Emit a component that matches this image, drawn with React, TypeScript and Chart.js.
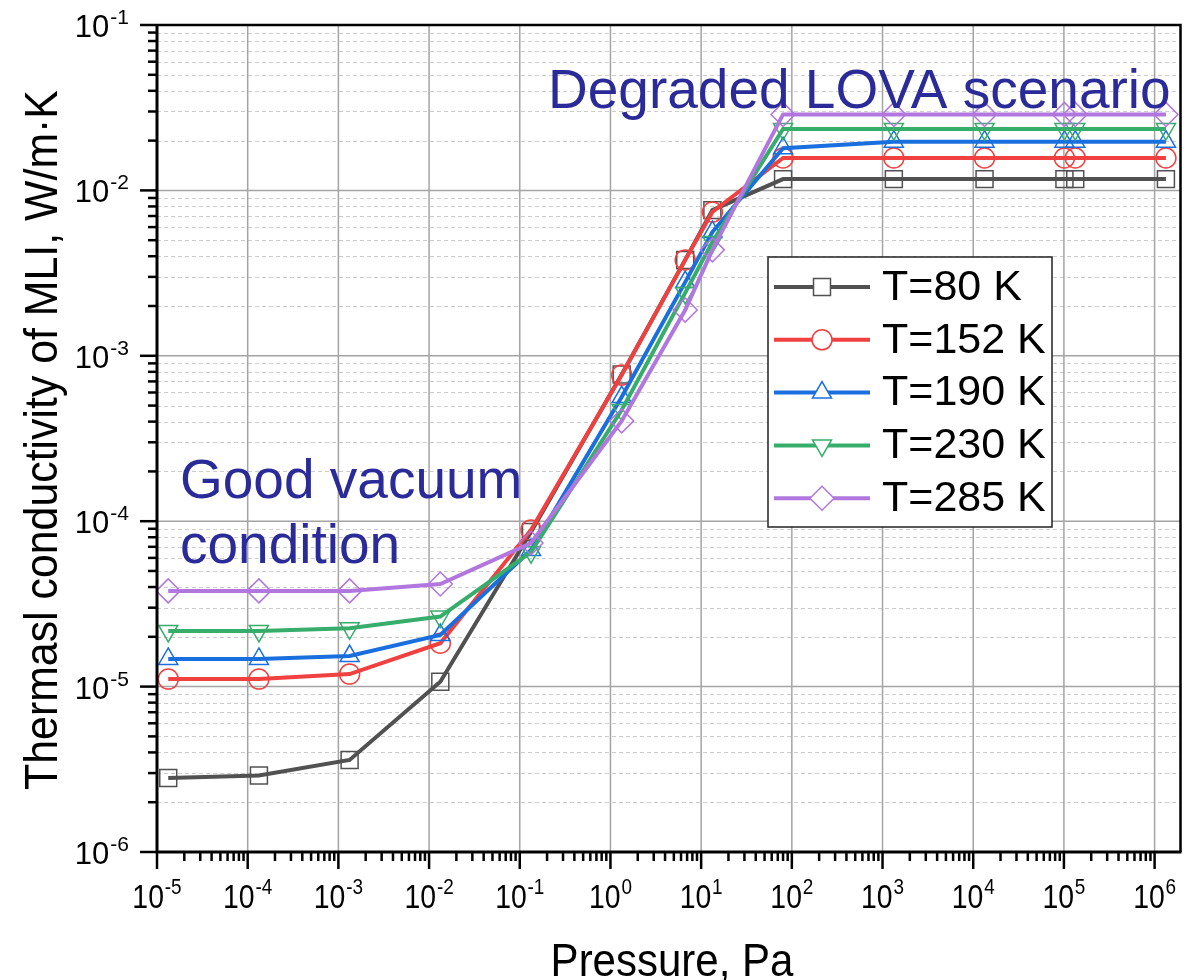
import React, { useEffect, useRef } from 'react';
import { Chart, registerables } from 'chart.js';
import { drawPoint } from 'chart.js/helpers';

Chart.register(...registerables);

// Pressure points, Pa
const pressurePa = [1.33e-5, 1.33e-4, 1.33e-3, 1.33e-2, 1.33e-1, 1.33, 6.67, 13.3, 80, 1333, 13332, 101325, 133322, 1333220];

// Thermal conductivity of MLI, W/m·K, one list per temperature
const k80 = [2.8e-6, 2.9e-6, 3.6e-6, 1.07e-5, 8.6e-5, 7.7e-4, 3.8e-3, 7.6e-3, 1.17e-2, 1.17e-2, 1.17e-2, 1.17e-2, 1.17e-2, 1.17e-2];
const k152 = [1.11e-5, 1.11e-5, 1.19e-5, 1.83e-5, 8.85e-5, 7.65e-4, 3.8e-3, 7.4e-3, 1.57e-2, 1.57e-2, 1.57e-2, 1.57e-2, 1.57e-2, 1.57e-2];
const k190 = [1.47e-5, 1.47e-5, 1.53e-5, 2.05e-5, 6.7e-5, 5.63e-4, 2.79e-3, 5.6e-3, 1.8e-2, 1.97e-2, 1.97e-2, 1.97e-2, 1.97e-2, 1.97e-2];
const k230 = [2.17e-5, 2.17e-5, 2.25e-5, 2.65e-5, 6.5e-5, 4.7e-4, 2.4e-3, 4.88e-3, 2.35e-2, 2.35e-2, 2.35e-2, 2.35e-2, 2.35e-2, 2.35e-2];
const k285 = [3.79e-5, 3.79e-5, 3.79e-5, 4.17e-5, 7.38e-5, 4.04e-4, 1.89e-3, 4.37e-3, 2.88e-2, 2.88e-2, 2.88e-2, 2.88e-2, 2.88e-2, 2.88e-2];

const seriesLabels = ['T=80 K', 'T=152 K', 'T=190 K', 'T=230 K', 'T=285 K'];
const seriesValues = [k80, k152, k190, k230, k285];
const seriesColors = ['#515151', '#F14040', '#1A6FDF', '#37AD6B', '#B177DE'];
const seriesMarkers = ['rect', 'circle', 'triangle', 'triangle', 'rectRot'];
const seriesMarkerRotation = [0, 0, 0, 180, 0];
const seriesMarkerRadius = [12, 10, 11, 11, 12];

// Axis decades (exponents of ten)
const xTickExponents = [-5, -4, -3, -2, -1, 0, 1, 2, 3, 4, 5, 6];
const yTickExponents = [-6, -5, -4, -3, -2, -1];

const xTitle = 'Pressure, Pa';
const yTitle = 'Thermasl conductivity of MLI, W/m·K';
const noteHigh = 'Degraded LOVA scenario';
const noteLowLines = ['Good vacuum', 'condition'];

const FONT = '"Liberation Sans", Arial, sans-serif';
const NOTE_COLOR = '#2A2A98';

// "10" with a raised exponent; sx squeezes the glyphs horizontally
function drawPower(
  ctx: CanvasRenderingContext2D,
  exp: number,
  x: number,
  baseline: number,
  align: 'center' | 'right',
  baseSize: number,
  supSize: number,
  sx: number,
) {
  const base = '10';
  const sup = String(exp);
  ctx.save();
  ctx.font = `${baseSize}px ${FONT}`;
  const wb = ctx.measureText(base).width;
  ctx.font = `${supSize}px ${FONT}`;
  const ws = ctx.measureText(sup).width;
  const total = (wb + 1 + ws) * sx;
  const left = align === 'right' ? x - total : x - total / 2;
  ctx.translate(left, baseline);
  ctx.scale(sx, 1);
  ctx.textAlign = 'left';
  ctx.textBaseline = 'alphabetic';
  ctx.font = `${baseSize}px ${FONT}`;
  ctx.fillText(base, 0, 0);
  ctx.font = `${supSize}px ${FONT}`;
  ctx.fillText(sup, wb + 1, -Math.round(baseSize * 0.42));
  ctx.restore();
}

const gridPlugin = {
  id: 'mliGrid',
  beforeDatasetsDraw(chart: any) {
    const { ctx, chartArea: a, scales } = chart;
    const xs = scales.x;
    const ys = scales.y;
    ctx.save();
    // minor horizontal grid, dashed
    ctx.strokeStyle = '#cdcdcd';
    ctx.lineWidth = 1;
    ctx.setLineDash([4, 3]);
    for (const e of yTickExponents) {
      if (e === yTickExponents[yTickExponents.length - 1]) continue;
      for (let m = 2; m <= 9; m++) {
        const py = Math.round(ys.getPixelForValue(m * Math.pow(10, e))) + 0.5;
        ctx.beginPath();
        ctx.moveTo(a.left, py);
        ctx.lineTo(a.right, py);
        ctx.stroke();
      }
    }
    // major grid, solid
    ctx.setLineDash([]);
    ctx.strokeStyle = '#a4a4a4';
    ctx.lineWidth = 1.5;
    for (const e of yTickExponents) {
      const py = ys.getPixelForValue(Math.pow(10, e));
      ctx.beginPath();
      ctx.moveTo(a.left, py);
      ctx.lineTo(a.right, py);
      ctx.stroke();
    }
    for (const e of xTickExponents) {
      const px = xs.getPixelForValue(Math.pow(10, e));
      ctx.beginPath();
      ctx.moveTo(px, a.top);
      ctx.lineTo(px, a.bottom);
      ctx.stroke();
    }
    ctx.restore();
  },
};

const framePlugin = {
  id: 'mliFrame',
  afterDraw(chart: any) {
    const { ctx, chartArea: a, scales } = chart;
    const xs = scales.x;
    const ys = scales.y;
    ctx.save();
    ctx.fillStyle = '#000';
    ctx.strokeStyle = '#000';

    // frame
    ctx.lineWidth = 2.5;
    ctx.beginPath();
    ctx.moveTo(a.left, a.top);
    ctx.lineTo(a.right, a.top);
    ctx.lineTo(a.right, a.bottom);
    ctx.stroke();
    ctx.lineWidth = 3;
    ctx.beginPath();
    ctx.moveTo(a.left, a.top - 1);
    ctx.lineTo(a.left, a.bottom);
    ctx.lineTo(a.right + 1, a.bottom);
    ctx.stroke();

    // y ticks (outward, left)
    ctx.lineWidth = 2.5;
    for (const e of yTickExponents) {
      const py = ys.getPixelForValue(Math.pow(10, e));
      ctx.beginPath();
      ctx.moveTo(a.left - 17, py);
      ctx.lineTo(a.left, py);
      ctx.stroke();
      if (e === yTickExponents[yTickExponents.length - 1]) continue;
      for (let m = 2; m <= 9; m++) {
        const pm = ys.getPixelForValue(m * Math.pow(10, e));
        ctx.beginPath();
        ctx.moveTo(a.left - 9, pm);
        ctx.lineTo(a.left, pm);
        ctx.stroke();
      }
    }
    // x ticks (outward, down)
    for (const e of xTickExponents) {
      const px = xs.getPixelForValue(Math.pow(10, e));
      ctx.beginPath();
      ctx.moveTo(px, a.bottom);
      ctx.lineTo(px, a.bottom + 17);
      ctx.stroke();
      for (let m = 2; m <= 9; m++) {
        const v = m * Math.pow(10, e);
        if (v > xs.max) break;
        const pm = xs.getPixelForValue(v);
        ctx.beginPath();
        ctx.moveTo(pm, a.bottom);
        ctx.lineTo(pm, a.bottom + 9);
        ctx.stroke();
      }
    }

    // tick labels
    for (const e of yTickExponents) {
      const py = ys.getPixelForValue(Math.pow(10, e));
      drawPower(ctx, e, 129, py + 12, 'right', 31, 21, 1);
    }
    for (const e of xTickExponents) {
      const px = xs.getPixelForValue(Math.pow(10, e));
      drawPower(ctx, e, px, 908, 'center', 33, 22, 0.86);
    }

    // axis titles
    ctx.font = `42px ${FONT}`;
    ctx.textAlign = 'center';
    ctx.textBaseline = 'alphabetic';
    ctx.save();
    ctx.translate(672, 976);
    ctx.scale(1, 1.1);
    ctx.fillText(xTitle, 0, 0);
    ctx.restore();
    ctx.save();
    ctx.translate(57, 440);
    ctx.rotate(-Math.PI / 2);
    ctx.scale(1.02, 1.1);
    ctx.fillText(yTitle, 0, 0);
    ctx.restore();

    // notes
    ctx.fillStyle = NOTE_COLOR;
    ctx.font = `55px ${FONT}`;
    ctx.textAlign = 'left';
    ctx.fillText(noteHigh, 548, 108);
    ctx.fillText(noteLowLines[0], 180, 498);
    ctx.fillText(noteLowLines[1], 180, 563);

    // legend
    const box = { left: 768, top: 257, right: 1052, bottom: 527 };
    ctx.fillStyle = '#fff';
    ctx.fillRect(box.left, box.top, box.right - box.left, box.bottom - box.top);
    ctx.strokeStyle = '#222';
    ctx.lineWidth = 1.5;
    ctx.strokeRect(box.left, box.top, box.right - box.left, box.bottom - box.top);
    seriesLabels.forEach((label, i) => {
      const ry = 287 + i * 52.8;
      ctx.strokeStyle = seriesColors[i];
      ctx.lineWidth = 4;
      ctx.beginPath();
      ctx.moveTo(774, ry);
      ctx.lineTo(870, ry);
      ctx.stroke();
      ctx.fillStyle = '#fff';
      ctx.lineWidth = 1.5;
      drawPoint(ctx, {
        pointStyle: seriesMarkers[i],
        rotation: seriesMarkerRotation[i],
        radius: seriesMarkerRadius[i],
        borderWidth: 1.5,
      } as any, 822, ry);
      ctx.fillStyle = '#000';
      ctx.font = `43px ${FONT}`;
      ctx.textAlign = 'left';
      ctx.textBaseline = 'middle';
      ctx.fillText(label, 882, ry + 1);
    });
    ctx.restore();
  },
};

export default function App() {
  const canvasRef = useRef<HTMLCanvasElement | null>(null);

  useEffect(() => {
    const canvas = canvasRef.current;
    if (!canvas) return;
    const chart = new Chart(canvas, {
      type: 'line',
      data: {
        datasets: seriesLabels.map((label, i) => ({
          label,
          data: pressurePa.map((p, j) => ({ x: p, y: seriesValues[i][j] })),
          borderColor: seriesColors[i],
          borderWidth: 4,
          tension: 0,
          pointStyle: seriesMarkers[i] as any,
          pointRotation: seriesMarkerRotation[i],
          pointRadius: seriesMarkerRadius[i],
          pointBorderWidth: 1.5,
          pointBorderColor: seriesColors[i],
          pointBackgroundColor: 'rgba(0,0,0,0)',
          order: seriesLabels.length - i,
        })),
      },
      options: {
        animation: false,
        responsive: false,
        devicePixelRatio: 1,
        layout: { padding: { left: 157, top: 25, right: 8, bottom: 128 } },
        scales: {
          x: { type: 'logarithmic', min: 1e-5, max: 1.93e6, bounds: 'data', display: false },
          y: { type: 'logarithmic', min: 1e-6, max: 1e-1, bounds: 'data', display: false },
        },
        plugins: {
          legend: { display: false },
          tooltip: { enabled: false },
        },
        events: [],
      },
      plugins: [gridPlugin, framePlugin],
    });
    return () => chart.destroy();
  }, []);

  return (
    <div style={{ position: 'absolute', left: 0, top: 0, width: 1194, height: 980, background: '#fff' }}>
      <canvas ref={canvasRef} width={1194} height={980} style={{ display: 'block' }} />
    </div>
  );
}
